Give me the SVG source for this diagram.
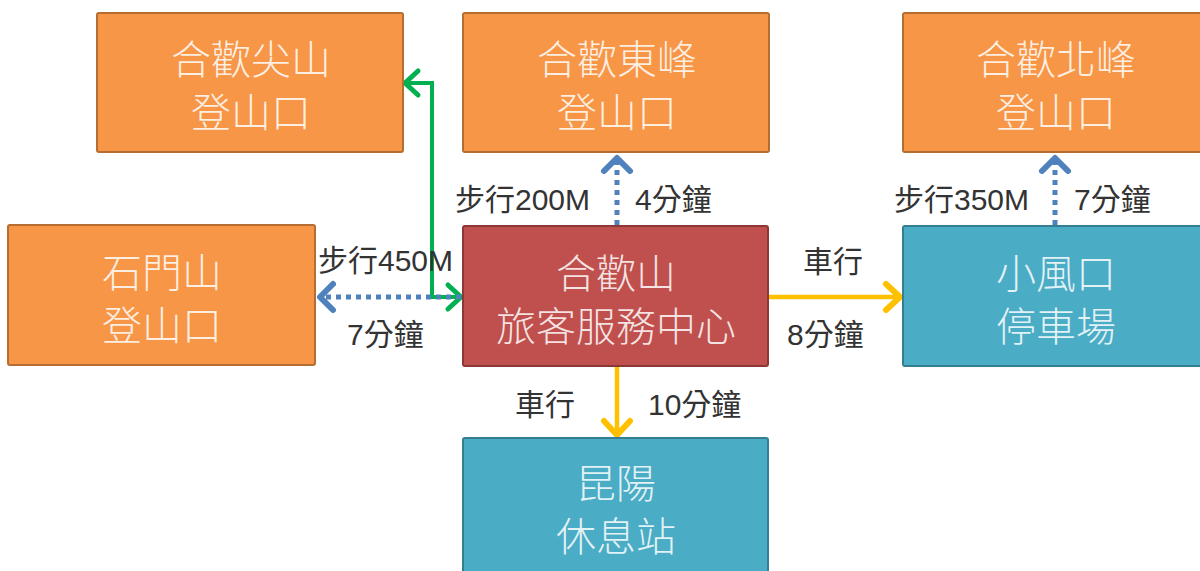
<svg xmlns="http://www.w3.org/2000/svg" width="1200" height="571" viewBox="0 0 1200 571">
<style>
.orange{fill:#F79646;stroke:#B66D31;stroke-width:2}
.red{fill:#C0504D;stroke:#8C3836;stroke-width:2}
.blue{fill:#4BACC6;stroke:#357D91;stroke-width:2}
.bt{font-family:"Noto Sans CJK TC","Noto Sans CJK SC",sans-serif;font-size:40px;font-weight:300;text-anchor:middle;fill:#FFFFFF;fill-opacity:0.85}
.lb{font-family:"Liberation Sans","Noto Sans CJK TC",sans-serif;font-size:30px;fill:#333333}
.green{fill:none;stroke:#00B050;stroke-width:4}
.yellow{fill:none;stroke:#FFC000;stroke-width:4.5}
.dot{fill:none;stroke:#4F81BD;stroke-width:5;stroke-dasharray:5 5}
</style>
<defs>
<marker id="mg" markerUnits="userSpaceOnUse" markerWidth="40" markerHeight="40" viewBox="-20 -20 40 40" refX="0" refY="0" orient="auto-start-reverse" overflow="visible">
<path d="M-13,-12 L0,0 L-13,12" fill="none" stroke="#00B050" stroke-width="5" stroke-linecap="round" stroke-linejoin="round"/>
</marker>
<marker id="my" markerUnits="userSpaceOnUse" markerWidth="40" markerHeight="40" viewBox="-20 -20 40 40" refX="0" refY="0" orient="auto" overflow="visible">
<path d="M-14,-13 L0,0 L-14,13" fill="none" stroke="#FFC000" stroke-width="6" stroke-linecap="round" stroke-linejoin="round"/>
</marker>
<marker id="mb" markerUnits="userSpaceOnUse" markerWidth="40" markerHeight="40" viewBox="-20 -20 40 40" refX="0" refY="0" orient="auto" overflow="visible">
<path d="M-13,-13 L0,0 L-13,13" fill="none" stroke="#4F81BD" stroke-width="6" stroke-linecap="round" stroke-linejoin="round"/>
</marker>
</defs>
<rect width="1200" height="571" fill="#FFFFFF"/>

<g id="connectors">
<path class="green" d="M405,83 L432,83 L432,297 L461,297" marker-start="url(#mg)" marker-end="url(#mg)"/>
<line class="dot" x1="461" y1="297" x2="320" y2="297" marker-end="url(#mb)"/>
<line class="dot" x1="617" y1="225" x2="617" y2="158" marker-end="url(#mb)"/>
<line class="dot" x1="1055" y1="225" x2="1055" y2="158" marker-end="url(#mb)"/>
<line class="yellow" x1="769" y1="297" x2="900" y2="297" marker-end="url(#my)"/>
<line class="yellow" x1="617" y1="367" x2="617" y2="435" marker-end="url(#my)"/>
</g>

<g id="n-jianshan">
<rect class="orange" x="97" y="13" width="306" height="139" rx="2"/>
<text class="bt" x="251" y="74">合歡尖山<tspan x="251" dy="53">登山口</tspan></text>
</g>
<g id="n-dongfeng">
<rect class="orange" x="463" y="13" width="306" height="139" rx="2"/>
<text class="bt" x="617" y="74">合歡東峰<tspan x="617" dy="53">登山口</tspan></text>
</g>
<g id="n-beifeng">
<rect class="orange" x="903" y="13" width="300" height="139" rx="2"/>
<text class="bt" x="1056" y="74">合歡北峰<tspan x="1056" dy="53">登山口</tspan></text>
</g>
<g id="n-shimen">
<rect class="orange" x="8" y="225" width="307" height="140" rx="2"/>
<text class="bt" x="162" y="287">石門山<tspan x="162" dy="53">登山口</tspan></text>
</g>
<g id="n-center">
<rect class="red" x="463" y="226" width="305" height="140" rx="2"/>
<text class="bt" x="616" y="288">合歡山<tspan x="616" dy="53">旅客服務中心</tspan></text>
</g>
<g id="n-xiaofengkou">
<rect class="blue" x="903" y="226" width="300" height="140" rx="2"/>
<text class="bt" x="1056" y="288">小風口<tspan x="1056" dy="53">停車場</tspan></text>
</g>
<g id="n-kunyang">
<rect class="blue" x="463" y="438" width="305" height="140" rx="2"/>
<text class="bt" x="616" y="498">昆陽<tspan x="616" dy="53">休息站</tspan></text>
</g>

<g id="labels">
<text class="lb" x="455" y="210">步行200M</text>
<text class="lb" x="635" y="210">4分鐘</text>
<text class="lb" x="894" y="210">步行350M</text>
<text class="lb" x="1074" y="210">7分鐘</text>
<text class="lb" x="318" y="271">步行450M</text>
<text class="lb" x="347" y="345">7分鐘</text>
<text class="lb" x="803" y="272">車行</text>
<text class="lb" x="787" y="345">8分鐘</text>
<text class="lb" x="515" y="415">車行</text>
<text class="lb" x="648" y="415">10分鐘</text>
</g>
</svg>
